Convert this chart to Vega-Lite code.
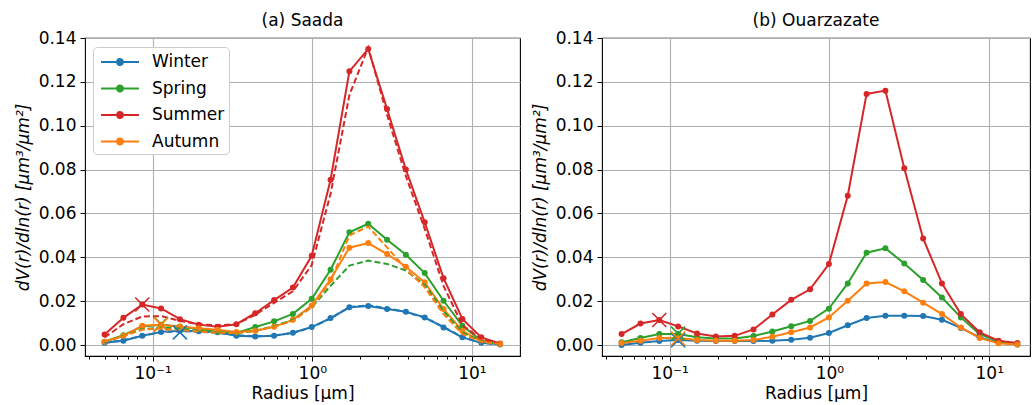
{
  "$schema": "https://vega.github.io/schema/vega-lite/v6.json",
  "padding": {"left": 13, "top": 11, "right": 0, "bottom": 0},
  "spacing": 9,
  "config": {
    "font": "DejaVu Sans",
    "view": {"stroke": "black", "strokeWidth": 1.1},
    "axis": {"labelFont": "DejaVu Sans", "labelFontSize": 17, "labelColor": "black", "titleFont": "DejaVu Sans", "titleFontSize": 17, "titleFontWeight": "normal", "titleColor": "black", "tickColor": "black", "tickSize": 5, "tickWidth": 1, "labelPadding": 4, "domain": false, "gridColor": "#b0b0b0", "gridWidth": 1.1},
    "axisY": {"titleFontStyle": "italic"},
    "title": {"font": "DejaVu Sans", "fontSize": 17, "fontWeight": "normal", "color": "black", "offset": -1, "anchor": "middle", "frame": "group"}
  },
  "datasets": {
    "a": [
      {"s":"Winter","r":0.05,"v":0.001},{"s":"Winter","r":0.0656,"v":0.002},{"s":"Winter","r":0.0861,"v":0.0042},{"s":"Winter","r":0.1129,"v":0.006},{"s":"Winter","r":0.1482,"v":0.0065},{"s":"Winter","r":0.1944,"v":0.0063},{"s":"Winter","r":0.2551,"v":0.0058},{"s":"Winter","r":0.3347,"v":0.0042},{"s":"Winter","r":0.4392,"v":0.0039},{"s":"Winter","r":0.5762,"v":0.0042},{"s":"Winter","r":0.7561,"v":0.0056},{"s":"Winter","r":0.992,"v":0.0082},{"s":"Winter","r":1.3016,"v":0.0123},{"s":"Winter","r":1.7078,"v":0.0172},{"s":"Winter","r":2.2407,"v":0.0178},{"s":"Winter","r":2.94,"v":0.0164},{"s":"Winter","r":3.8575,"v":0.0152},{"s":"Winter","r":5.0613,"v":0.0126},{"s":"Winter","r":6.6407,"v":0.008},{"s":"Winter","r":8.7131,"v":0.0035},{"s":"Winter","r":11.4323,"v":0.001},{"s":"Winter","r":15.0,"v":0.0003},
      {"s":"Spring","r":0.05,"v":0.0015},{"s":"Spring","r":0.0656,"v":0.0045},{"s":"Spring","r":0.0861,"v":0.0085},{"s":"Spring","r":0.1129,"v":0.0093},{"s":"Spring","r":0.1482,"v":0.0085},{"s":"Spring","r":0.1944,"v":0.0073},{"s":"Spring","r":0.2551,"v":0.006},{"s":"Spring","r":0.3347,"v":0.0055},{"s":"Spring","r":0.4392,"v":0.0082},{"s":"Spring","r":0.5762,"v":0.0108},{"s":"Spring","r":0.7561,"v":0.0142},{"s":"Spring","r":0.992,"v":0.0211},{"s":"Spring","r":1.3016,"v":0.0343},{"s":"Spring","r":1.7078,"v":0.0514},{"s":"Spring","r":2.2407,"v":0.0553},{"s":"Spring","r":2.94,"v":0.048},{"s":"Spring","r":3.8575,"v":0.0412},{"s":"Spring","r":5.0613,"v":0.0328},{"s":"Spring","r":6.6407,"v":0.0202},{"s":"Spring","r":8.7131,"v":0.0088},{"s":"Spring","r":11.4323,"v":0.002},{"s":"Spring","r":15.0,"v":0.0005},
      {"s":"Summer","r":0.05,"v":0.0048},{"s":"Summer","r":0.0656,"v":0.0124},{"s":"Summer","r":0.0861,"v":0.0185},{"s":"Summer","r":0.1129,"v":0.0167},{"s":"Summer","r":0.1482,"v":0.0118},{"s":"Summer","r":0.1944,"v":0.0093},{"s":"Summer","r":0.2551,"v":0.0083},{"s":"Summer","r":0.3347,"v":0.0095},{"s":"Summer","r":0.4392,"v":0.0145},{"s":"Summer","r":0.5762,"v":0.0205},{"s":"Summer","r":0.7561,"v":0.0262},{"s":"Summer","r":0.992,"v":0.0407},{"s":"Summer","r":1.3016,"v":0.0754},{"s":"Summer","r":1.7078,"v":0.1248},{"s":"Summer","r":2.2407,"v":0.135},{"s":"Summer","r":2.94,"v":0.1076},{"s":"Summer","r":3.8575,"v":0.08},{"s":"Summer","r":5.0613,"v":0.056},{"s":"Summer","r":6.6407,"v":0.0305},{"s":"Summer","r":8.7131,"v":0.0119},{"s":"Summer","r":11.4323,"v":0.0035},{"s":"Summer","r":15.0,"v":0.0007},
      {"s":"Autumn","r":0.05,"v":0.0015},{"s":"Autumn","r":0.0656,"v":0.0042},{"s":"Autumn","r":0.0861,"v":0.0088},{"s":"Autumn","r":0.1129,"v":0.0093},{"s":"Autumn","r":0.1482,"v":0.0083},{"s":"Autumn","r":0.1944,"v":0.0076},{"s":"Autumn","r":0.2551,"v":0.007},{"s":"Autumn","r":0.3347,"v":0.006},{"s":"Autumn","r":0.4392,"v":0.0065},{"s":"Autumn","r":0.5762,"v":0.0083},{"s":"Autumn","r":0.7561,"v":0.0115},{"s":"Autumn","r":0.992,"v":0.018},{"s":"Autumn","r":1.3016,"v":0.03},{"s":"Autumn","r":1.7078,"v":0.0444},{"s":"Autumn","r":2.2407,"v":0.0465},{"s":"Autumn","r":2.94,"v":0.0415},{"s":"Autumn","r":3.8575,"v":0.0357},{"s":"Autumn","r":5.0613,"v":0.0286},{"s":"Autumn","r":6.6407,"v":0.0164},{"s":"Autumn","r":8.7131,"v":0.0065},{"s":"Autumn","r":11.4323,"v":0.0017},{"s":"Autumn","r":15.0,"v":0.0005}
    ],
    "afit": [
      {"s":"Winter","r":0.05,"v":0.001},{"s":"Winter","r":0.0656,"v":0.0022},{"s":"Winter","r":0.0861,"v":0.0042},{"s":"Winter","r":0.1129,"v":0.0058},{"s":"Winter","r":0.1482,"v":0.0063},{"s":"Winter","r":0.1944,"v":0.0061},{"s":"Winter","r":0.2551,"v":0.0055},{"s":"Winter","r":0.3347,"v":0.0045},{"s":"Winter","r":0.4392,"v":0.004},{"s":"Winter","r":0.5762,"v":0.0043},{"s":"Winter","r":0.7561,"v":0.0055},{"s":"Winter","r":0.992,"v":0.0081},{"s":"Winter","r":1.3016,"v":0.0121},{"s":"Winter","r":1.7078,"v":0.0173},{"s":"Winter","r":2.2407,"v":0.0181},{"s":"Winter","r":2.94,"v":0.0168},{"s":"Winter","r":3.8575,"v":0.015},{"s":"Winter","r":5.0613,"v":0.0125},{"s":"Winter","r":6.6407,"v":0.0083},{"s":"Winter","r":8.7131,"v":0.0036},{"s":"Winter","r":11.4323,"v":0.001},{"s":"Winter","r":15.0,"v":0.0003},
      {"s":"Spring","r":0.05,"v":0.0015},{"s":"Spring","r":0.0656,"v":0.0042},{"s":"Spring","r":0.0861,"v":0.0072},{"s":"Spring","r":0.1129,"v":0.008},{"s":"Spring","r":0.1482,"v":0.0075},{"s":"Spring","r":0.1944,"v":0.0066},{"s":"Spring","r":0.2551,"v":0.0058},{"s":"Spring","r":0.3347,"v":0.0055},{"s":"Spring","r":0.4392,"v":0.0064},{"s":"Spring","r":0.5762,"v":0.0086},{"s":"Spring","r":0.7561,"v":0.0115},{"s":"Spring","r":0.992,"v":0.0172},{"s":"Spring","r":1.3016,"v":0.027},{"s":"Spring","r":1.7078,"v":0.0362},{"s":"Spring","r":2.2407,"v":0.0385},{"s":"Spring","r":2.94,"v":0.037},{"s":"Spring","r":3.8575,"v":0.034},{"s":"Spring","r":5.0613,"v":0.0275},{"s":"Spring","r":6.6407,"v":0.0155},{"s":"Spring","r":8.7131,"v":0.0058},{"s":"Spring","r":11.4323,"v":0.0017},{"s":"Spring","r":15.0,"v":0.0005},
      {"s":"Summer","r":0.05,"v":0.0035},{"s":"Summer","r":0.0656,"v":0.0095},{"s":"Summer","r":0.0861,"v":0.013},{"s":"Summer","r":0.1129,"v":0.0132},{"s":"Summer","r":0.1482,"v":0.011},{"s":"Summer","r":0.1944,"v":0.0095},{"s":"Summer","r":0.2551,"v":0.009},{"s":"Summer","r":0.3347,"v":0.0095},{"s":"Summer","r":0.4392,"v":0.0138},{"s":"Summer","r":0.5762,"v":0.0192},{"s":"Summer","r":0.7561,"v":0.0245},{"s":"Summer","r":0.992,"v":0.0365},{"s":"Summer","r":1.3016,"v":0.069},{"s":"Summer","r":1.7078,"v":0.114},{"s":"Summer","r":2.2407,"v":0.1357},{"s":"Summer","r":2.94,"v":0.105},{"s":"Summer","r":3.8575,"v":0.077},{"s":"Summer","r":5.0613,"v":0.053},{"s":"Summer","r":6.6407,"v":0.027},{"s":"Summer","r":8.7131,"v":0.009},{"s":"Summer","r":11.4323,"v":0.0028},{"s":"Summer","r":15.0,"v":0.0006},
      {"s":"Autumn","r":0.05,"v":0.0015},{"s":"Autumn","r":0.0656,"v":0.004},{"s":"Autumn","r":0.0861,"v":0.007},{"s":"Autumn","r":0.1129,"v":0.0075},{"s":"Autumn","r":0.1482,"v":0.0068},{"s":"Autumn","r":0.1944,"v":0.0062},{"s":"Autumn","r":0.2551,"v":0.0056},{"s":"Autumn","r":0.3347,"v":0.0055},{"s":"Autumn","r":0.4392,"v":0.0064},{"s":"Autumn","r":0.5762,"v":0.0084},{"s":"Autumn","r":0.7561,"v":0.011},{"s":"Autumn","r":0.992,"v":0.0172},{"s":"Autumn","r":1.3016,"v":0.029},{"s":"Autumn","r":1.7078,"v":0.05},{"s":"Autumn","r":2.2407,"v":0.054},{"s":"Autumn","r":2.94,"v":0.0445},{"s":"Autumn","r":3.8575,"v":0.0347},{"s":"Autumn","r":5.0613,"v":0.0263},{"s":"Autumn","r":6.6407,"v":0.0141},{"s":"Autumn","r":8.7131,"v":0.005},{"s":"Autumn","r":11.4323,"v":0.0015},{"s":"Autumn","r":15.0,"v":0.0005}
    ],
    "b": [
      {"s":"Winter","r":0.05,"v":0.0},{"s":"Winter","r":0.0656,"v":0.001},{"s":"Winter","r":0.0861,"v":0.0018},{"s":"Winter","r":0.1129,"v":0.0023},{"s":"Winter","r":0.1482,"v":0.002},{"s":"Winter","r":0.1944,"v":0.0018},{"s":"Winter","r":0.2551,"v":0.0018},{"s":"Winter","r":0.3347,"v":0.0018},{"s":"Winter","r":0.4392,"v":0.002},{"s":"Winter","r":0.5762,"v":0.0024},{"s":"Winter","r":0.7561,"v":0.0033},{"s":"Winter","r":0.992,"v":0.0055},{"s":"Winter","r":1.3016,"v":0.009},{"s":"Winter","r":1.7078,"v":0.0123},{"s":"Winter","r":2.2407,"v":0.0134},{"s":"Winter","r":2.94,"v":0.0134},{"s":"Winter","r":3.8575,"v":0.0132},{"s":"Winter","r":5.0613,"v":0.0115},{"s":"Winter","r":6.6407,"v":0.0078},{"s":"Winter","r":8.7131,"v":0.0035},{"s":"Winter","r":11.4323,"v":0.0012},{"s":"Winter","r":15.0,"v":0.0002},
      {"s":"Spring","r":0.05,"v":0.0013},{"s":"Spring","r":0.0656,"v":0.0032},{"s":"Spring","r":0.0861,"v":0.005},{"s":"Spring","r":0.1129,"v":0.005},{"s":"Spring","r":0.1482,"v":0.0036},{"s":"Spring","r":0.1944,"v":0.003},{"s":"Spring","r":0.2551,"v":0.003},{"s":"Spring","r":0.3347,"v":0.0041},{"s":"Spring","r":0.4392,"v":0.0062},{"s":"Spring","r":0.5762,"v":0.0086},{"s":"Spring","r":0.7561,"v":0.011},{"s":"Spring","r":0.992,"v":0.0166},{"s":"Spring","r":1.3016,"v":0.0281},{"s":"Spring","r":1.7078,"v":0.0421},{"s":"Spring","r":2.2407,"v":0.0441},{"s":"Spring","r":2.94,"v":0.0372},{"s":"Spring","r":3.8575,"v":0.0296},{"s":"Spring","r":5.0613,"v":0.0217},{"s":"Spring","r":6.6407,"v":0.0126},{"s":"Spring","r":8.7131,"v":0.005},{"s":"Spring","r":11.4323,"v":0.0017},{"s":"Spring","r":15.0,"v":0.0005},
      {"s":"Summer","r":0.05,"v":0.005},{"s":"Summer","r":0.0656,"v":0.0098},{"s":"Summer","r":0.0861,"v":0.0114},{"s":"Summer","r":0.1129,"v":0.0085},{"s":"Summer","r":0.1482,"v":0.0053},{"s":"Summer","r":0.1944,"v":0.0039},{"s":"Summer","r":0.2551,"v":0.0042},{"s":"Summer","r":0.3347,"v":0.0071},{"s":"Summer","r":0.4392,"v":0.0139},{"s":"Summer","r":0.5762,"v":0.0206},{"s":"Summer","r":0.7561,"v":0.0254},{"s":"Summer","r":0.992,"v":0.0369},{"s":"Summer","r":1.3016,"v":0.0681},{"s":"Summer","r":1.7078,"v":0.1145},{"s":"Summer","r":2.2407,"v":0.116},{"s":"Summer","r":2.94,"v":0.0806},{"s":"Summer","r":3.8575,"v":0.0486},{"s":"Summer","r":5.0613,"v":0.0281},{"s":"Summer","r":6.6407,"v":0.0141},{"s":"Summer","r":8.7131,"v":0.0058},{"s":"Summer","r":11.4323,"v":0.002},{"s":"Summer","r":15.0,"v":0.0009},
      {"s":"Autumn","r":0.05,"v":0.0009},{"s":"Autumn","r":0.0656,"v":0.002},{"s":"Autumn","r":0.0861,"v":0.0032},{"s":"Autumn","r":0.1129,"v":0.0032},{"s":"Autumn","r":0.1482,"v":0.0023},{"s":"Autumn","r":0.1944,"v":0.002},{"s":"Autumn","r":0.2551,"v":0.002},{"s":"Autumn","r":0.3347,"v":0.0023},{"s":"Autumn","r":0.4392,"v":0.0038},{"s":"Autumn","r":0.5762,"v":0.0058},{"s":"Autumn","r":0.7561,"v":0.008},{"s":"Autumn","r":0.992,"v":0.0126},{"s":"Autumn","r":1.3016,"v":0.0202},{"s":"Autumn","r":1.7078,"v":0.0281},{"s":"Autumn","r":2.2407,"v":0.0287},{"s":"Autumn","r":2.94,"v":0.0245},{"s":"Autumn","r":3.8575,"v":0.0193},{"s":"Autumn","r":5.0613,"v":0.0141},{"s":"Autumn","r":6.6407,"v":0.008},{"s":"Autumn","r":8.7131,"v":0.0032},{"s":"Autumn","r":11.4323,"v":0.0008},{"s":"Autumn","r":15.0,"v":0.0002}
    ],
    "ax": [
      {"s":"Winter","r":0.1482,"v":0.0058},{"s":"Spring","r":0.1129,"v":0.0096},{"s":"Summer","r":0.0861,"v":0.0185},{"s":"Autumn","r":0.1129,"v":0.0093}
    ],
    "bx": [
      {"s":"Winter","r":0.1129,"v":0.0022},{"s":"Spring","r":0.1129,"v":0.0052},{"s":"Summer","r":0.0861,"v":0.0114},{"s":"Autumn","r":0.1129,"v":0.003}
    ]
  },
  "hconcat": [
    {
      "width": 435,
      "height": 318,
      "title": {"text": "(a) Saada"},
      "layer": [
        {
          "data": {"name": "a"},
          "mark": {"type": "line", "strokeWidth": 2},
          "encoding": {
            "x": {"field": "r", "type": "quantitative", "scale": {"type": "log", "domain": [0.0377, 20], "nice": false},
                  "axis": {"values": [0.1, 1, 10], "labelExpr": "datum.value < 0.5 ? '10⁻¹' : datum.value < 5 ? '10⁰' : '10¹'", "grid": true, "title": "Radius [μm]", "titlePadding": 4, "orient": "bottom"}},
            "y": {"field": "v", "type": "quantitative", "scale": {"domain": [-0.005, 0.14], "nice": false, "zero": false},
                  "axis": {"values": [0, 0.02, 0.04, 0.06, 0.08, 0.1, 0.12, 0.14], "format": ".2f", "grid": true, "title": "dV(r)/dln(r) [μm³/μm²]", "titlePadding": 6}},
            "color": {"field": "s", "type": "nominal", "sort": ["Winter", "Spring", "Summer", "Autumn"],
                      "scale": {"domain": ["Winter", "Spring", "Summer", "Autumn"], "range": ["#1f77b4", "#2ca02c", "#d62728", "#ff7f0e"]},
                      "legend": {"title": null, "orient": "none", "legendX": 8, "legendY": 9,
                                 "symbolType": "M-1.9,0H1.9M-0.3,0A0.3,0.3,0,1,0,0.3,0A0.3,0.3,0,1,0,-0.3,0Z",
                                 "symbolSize": 400, "symbolStrokeWidth": 2, "symbolOffset": 12,
                                 "labelFont": "DejaVu Sans", "labelFontSize": 17, "labelColor": "black", "labelOffset": 21,
                                 "rowPadding": 7.5, "padding": 4, "strokeColor": "#cccccc", "fillColor": "white", "cornerRadius": 4,
                                 "encode": {"symbols": {"update": {"fill": {"scale": "color", "field": "value"}, "stroke": {"scale": "color", "field": "value"}, "strokeDash": {"value": [1, 0]}, "opacity": {"value": 1}}}}}}
          }
        },
        {
          "data": {"name": "a"},
          "mark": {"type": "point", "filled": true, "size": 36, "opacity": 1},
          "encoding": {
            "x": {"field": "r", "type": "quantitative", "axis": {"values": [0.04, 0.05, 0.06, 0.07, 0.08, 0.09, 0.2, 0.3, 0.4, 0.5, 0.6, 0.7, 0.8, 0.9, 2, 3, 4, 5, 6, 7, 8, 9], "labels": false, "grid": false, "tickSize": 3, "title": null, "orient": "bottom"}},
            "y": {"field": "v", "type": "quantitative"},
            "color": {"field": "s", "type": "nominal"}
          }
        },
        {
          "data": {"name": "afit"},
          "mark": {"type": "line", "strokeWidth": 2, "strokeDash": [6, 3]},
          "encoding": {
            "x": {"field": "r", "type": "quantitative", "axis": null},
            "y": {"field": "v", "type": "quantitative"},
            "color": {"field": "s", "type": "nominal"}
          }
        },
        {
          "data": {"name": "ax"},
          "mark": {"type": "point", "shape": "M-1,-1L1,1M-1,1L1,-1", "filled": false, "size": 196, "strokeWidth": 1.6, "opacity": 1},
          "encoding": {
            "x": {"field": "r", "type": "quantitative", "axis": null},
            "y": {"field": "v", "type": "quantitative"},
            "color": {"field": "s", "type": "nominal"}
          }
        }
      ],
      "resolve": {"axis": {"x": "independent"}}
    },
    {
      "width": 428,
      "height": 318,
      "title": {"text": "(b) Ouarzazate"},
      "layer": [
        {
          "data": {"name": "b"},
          "mark": {"type": "line", "strokeWidth": 2},
          "encoding": {
            "x": {"field": "r", "type": "quantitative", "scale": {"type": "log", "domain": [0.0377, 18], "nice": false},
                  "axis": {"values": [0.1, 1, 10], "labelExpr": "datum.value < 0.5 ? '10⁻¹' : datum.value < 5 ? '10⁰' : '10¹'", "grid": true, "title": "Radius [μm]", "titlePadding": 4, "orient": "bottom"}},
            "y": {"field": "v", "type": "quantitative", "scale": {"domain": [-0.005, 0.14], "nice": false, "zero": false},
                  "axis": {"values": [0, 0.02, 0.04, 0.06, 0.08, 0.1, 0.12, 0.14], "format": ".2f", "grid": true, "title": "dV(r)/dln(r) [μm³/μm²]", "titlePadding": 6}},
            "color": {"field": "s", "type": "nominal"}
          }
        },
        {
          "data": {"name": "b"},
          "mark": {"type": "point", "filled": true, "size": 36, "opacity": 1},
          "encoding": {
            "x": {"field": "r", "type": "quantitative", "axis": {"values": [0.04, 0.05, 0.06, 0.07, 0.08, 0.09, 0.2, 0.3, 0.4, 0.5, 0.6, 0.7, 0.8, 0.9, 2, 3, 4, 5, 6, 7, 8, 9], "labels": false, "grid": false, "tickSize": 3, "title": null, "orient": "bottom"}},
            "y": {"field": "v", "type": "quantitative"},
            "color": {"field": "s", "type": "nominal"}
          }
        },
        {
          "data": {"name": "bx"},
          "mark": {"type": "point", "shape": "M-1,-1L1,1M-1,1L1,-1", "filled": false, "size": 196, "strokeWidth": 1.6, "opacity": 1},
          "encoding": {
            "x": {"field": "r", "type": "quantitative", "axis": null},
            "y": {"field": "v", "type": "quantitative"},
            "color": {"field": "s", "type": "nominal"}
          }
        }
      ],
      "resolve": {"axis": {"x": "independent"}}
    }
  ]
}
